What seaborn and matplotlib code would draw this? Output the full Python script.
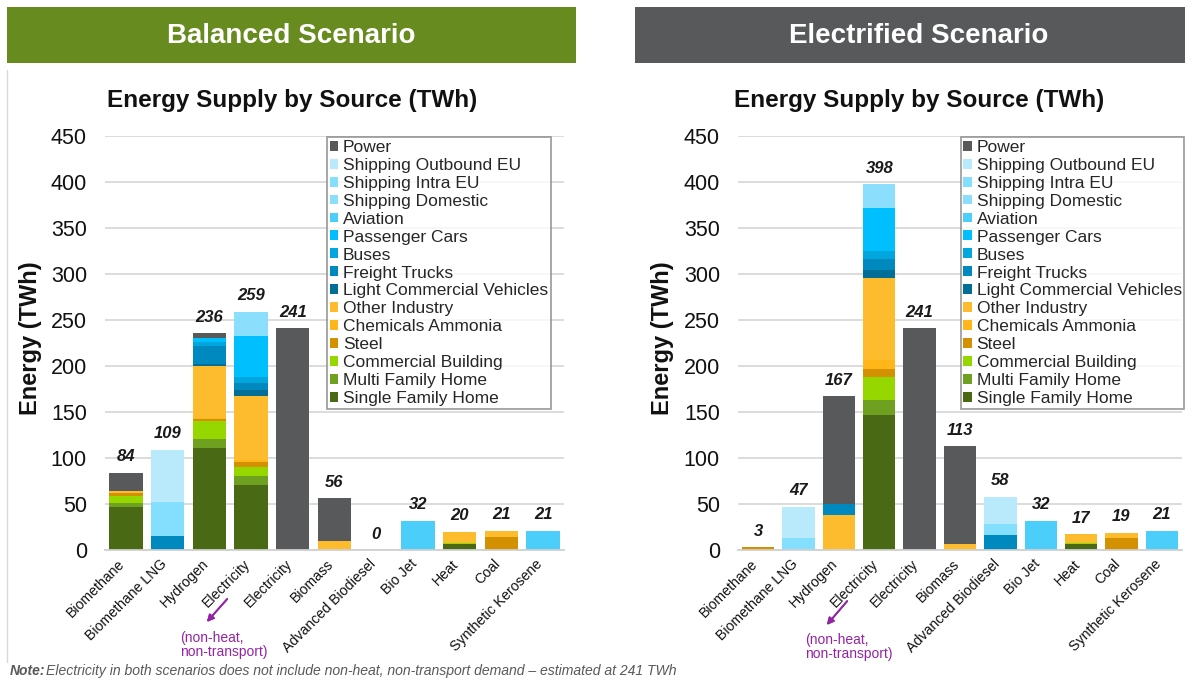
# -*- coding: utf-8 -*-

# import libraries
import pandas               as pd
import seaborn              as sns
import matplotlib.pyplot    as plt
from matplotlib.patches import Patch, Rectangle
from matplotlib.lines   import Line2D

# categories on the x axis (Electricity twice: second one is non-heat, non-transport)
sources = ['Biomethane', 'Biomethane LNG', 'Hydrogen', 'Electricity', 'Electricity',
           'Biomass', 'Advanced Biodiesel', 'Bio Jet', 'Heat', 'Coal', 'Synthetic Kerosene']

# stack order, bottom -> top
segments = ['Single Family Home', 'Multi Family Home', 'Commercial Building', 'Steel',
            'Chemicals Ammonia', 'Other Industry', 'Light Commercial Vehicles',
            'Freight Trucks', 'Buses', 'Passenger Cars', 'Aviation', 'Shipping Domestic',
            'Shipping Intra EU', 'Shipping Outbound EU', 'Power']

seg_colors = ['#4A6914', '#70A020', '#97D700', '#D39000',
              '#FFB619', '#FDBB2E', '#006E96',
              '#0089BF', '#00A6DD', '#00BFFF', '#4BCFFA', '#8CDFFC',
              '#83DFFD', '#B9EAFB', '#58595B']

# Balanced scenario (TWh)
bal_sfh      = [47, 0, 111, 71, 0, 0, 0, 0, 6, 0, 0]
bal_mfh      = [4, 0, 10, 9, 0, 0, 0, 0, 1, 0, 0]
bal_comm     = [8, 0, 19, 10, 0, 0, 0, 0, 1, 0, 0]
bal_steel    = [3, 0, 2, 6, 0, 0, 0, 0, 0, 14, 0]
bal_chem     = [0, 0, 2, 2, 0, 0, 0, 0, 0, 0, 0]
bal_other    = [2, 0, 56, 69, 0, 10, 0, 0, 12, 7, 0]
bal_lcv      = [0, 0, 2, 7, 0, 0, 0, 0, 0, 0, 0]
bal_freight  = [0, 15, 20, 7, 0, 0, 0, 0, 0, 0, 0]
bal_buses    = [0, 0, 4, 7, 0, 0, 0, 0, 0, 0, 0]
bal_cars     = [0, 0, 4, 45, 0, 0, 0, 0, 0, 0, 0]
bal_aviation = [0, 0, 0, 0, 0, 0, 0, 32, 0, 0, 21]
bal_shipdom  = [0, 0, 0, 26, 0, 0, 0, 0, 0, 0, 0]
bal_shipeu   = [0, 37, 0, 0, 0, 0, 0, 0, 0, 0, 0]
bal_shipout  = [0, 57, 0, 0, 0, 0, 0, 0, 0, 0, 0]
bal_power    = [20, 0, 6, 0, 241, 46, 0, 0, 0, 0, 0]

# Electrified scenario (TWh)
ele_sfh      = [0, 0, 0, 147, 0, 0, 0, 0, 6, 0, 0]
ele_mfh      = [0, 0, 0, 16, 0, 0, 0, 0, 1, 0, 0]
ele_comm     = [0, 0, 0, 25, 0, 0, 0, 0, 1, 0, 0]
ele_steel    = [3, 0, 0, 9, 0, 0, 0, 0, 0, 13, 0]
ele_chem     = [0, 0, 0, 10, 0, 0, 0, 0, 0, 0, 0]
ele_other    = [0, 0, 38, 89, 0, 7, 0, 0, 9, 6, 0]
ele_lcv      = [0, 0, 0, 8, 0, 0, 0, 0, 0, 0, 0]
ele_freight  = [0, 0, 12, 12, 0, 0, 16, 0, 0, 0, 0]
ele_buses    = [0, 0, 0, 9, 0, 0, 0, 0, 0, 0, 0]
ele_cars     = [0, 0, 0, 47, 0, 0, 0, 0, 0, 0, 0]
ele_aviation = [0, 0, 0, 0, 0, 0, 0, 32, 0, 0, 21]
ele_shipdom  = [0, 0, 0, 26, 0, 0, 0, 0, 0, 0, 0]
ele_shipeu   = [0, 13, 0, 0, 0, 0, 12, 0, 0, 0, 0]
ele_shipout  = [0, 34, 0, 0, 0, 0, 30, 0, 0, 0, 0]
ele_power    = [0, 0, 117, 0, 241, 106, 0, 0, 0, 0, 0]

balanced = [bal_sfh, bal_mfh, bal_comm, bal_steel, bal_chem, bal_other, bal_lcv,
            bal_freight, bal_buses, bal_cars, bal_aviation, bal_shipdom, bal_shipeu,
            bal_shipout, bal_power]
electrified = [ele_sfh, ele_mfh, ele_comm, ele_steel, ele_chem, ele_other, ele_lcv,
               ele_freight, ele_buses, ele_cars, ele_aviation, ele_shipdom, ele_shipeu,
               ele_shipout, ele_power]


def to_long(series):
    rows = []
    for seg, vals in zip(segments, series):
        for i, v in enumerate(vals):
            rows.append({'slot': i, 'segment': seg, 'value': v})
    df = pd.DataFrame(rows)
    df['segment'] = pd.Categorical(df['segment'], categories=segments, ordered=True)
    df = df.sort_values(['slot', 'segment'])
    df['cum'] = df.groupby('slot')['value'].cumsum()
    return df


sns.set_theme(style='white')
plt.rcParams['font.family'] = ['Liberation Sans', 'DejaVu Sans']

W, H = 1192, 680
fig = plt.figure(figsize=(W / 100, H / 100), dpi=100)


def px(x, y):
    return x / W, 1 - y / H


def draw_panel(rect, series, legend_x):
    ax = fig.add_axes(rect)
    df = to_long(series)
    # stacked bars: draw cumulative totals from the top segment down
    for seg, col in zip(reversed(segments), reversed(seg_colors)):
        sub = df[df['segment'] == seg]
        sns.barplot(data=sub, x='slot', y='cum', order=list(range(len(sources))),
                    color=col, saturation=1, width=0.8, errorbar=None,
                    linewidth=0, ax=ax)
    totals = df.groupby('slot')['value'].sum()
    for i, t in totals.items():
        ax.text(i, t + 9, f'{t:.0f}', ha='center', va='bottom', fontsize=12,
                fontweight='bold', fontstyle='italic', color='#1a1a1a')
    ax.set_ylim(0, 450)
    ax.set_xlim(-0.5, len(sources) - 0.5)
    ax.set_yticks(range(0, 451, 50))
    ax.yaxis.grid(True, color='#D9D9D9', lw=1.3)
    ax.set_axisbelow(True)
    for s in ['top', 'right', 'left']:
        ax.spines[s].set_visible(False)
    ax.spines['bottom'].set_color('#D0D0D0')
    ax.spines['bottom'].set_linewidth(1.3)
    ax.tick_params(axis='both', length=0)
    ax.tick_params(axis='y', pad=13, labelsize=15.5, labelcolor='#111111')
    # rotated category labels, drawn as annotations so they can be nudged like Excel's
    ax.set_xticks(range(len(sources)))
    ax.set_xticklabels([])
    for i, lab in enumerate(sources):
        ax.annotate(lab, xy=(i, 0), xycoords=('data', 'axes fraction'),
                    xytext=(-8, -7), textcoords='offset pixels', rotation=45,
                    ha='right', va='top', rotation_mode='anchor', fontsize=10.2,
                    color='#111111')
    ax.set_xlabel('')
    ax.set_ylabel('')
    handles = [Patch(facecolor=c, edgecolor='none', label=s)
               for s, c in zip(reversed(segments), reversed(seg_colors))]
    leg = ax.legend(handles=handles, loc='upper left', bbox_to_anchor=(legend_x, 0.997),
                    borderaxespad=0, fontsize=12.5, handlelength=0.5, handleheight=0.5,
                    handletextpad=0.25, labelspacing=0.17, borderpad=0.15,
                    frameon=True, fancybox=False)
    leg.get_frame().set_edgecolor('#7F7F7F')
    leg.get_frame().set_linewidth(1.2)
    return ax


# axes positions (pixels)
ax_l = draw_panel([105 / W, 1 - 550 / H, 459 / W, 414 / H], balanced, 0.484)
ax_r = draw_panel([738 / W, 1 - 550 / H, 444 / W, 414 / H], electrified, 0.502)

# scenario banners
fig.patches.append(Rectangle(px(7, 63), 569 / W, 56 / H, transform=fig.transFigure,
                             facecolor='#678B1E', edgecolor='none'))
fig.patches.append(Rectangle(px(635, 63), 550 / W, 56 / H, transform=fig.transFigure,
                             facecolor='#58595B', edgecolor='none'))
fig.text(*px(291, 36), 'Balanced Scenario', ha='center', va='center', color='white',
         fontsize=20, fontweight='bold')
fig.text(*px(919, 36), 'Electrified Scenario', ha='center', va='center', color='white',
         fontsize=20, fontweight='bold')

# thin panel border on the left
fig.add_artist(Line2D([7 / W, 7 / W], [1 - 70 / H, 1 - 662 / H], transform=fig.transFigure,
                      color='#D9D9D9', lw=1))

# chart titles and y labels
for cx in [292, 919]:
    fig.text(*px(cx, 101), 'Energy Supply by Source (TWh)', ha='center', va='center',
             fontsize=17.5, fontweight='bold', color='#111111')
for lx in [31, 663]:
    fig.text(*px(lx, 338), 'Energy (TWh)', ha='center', va='center', rotation=90,
             fontsize=17, fontweight='bold', color='#111111')

# non-heat, non-transport callouts
purple = '#9424A6'
for (tx, ty), (ax0, ay0), (ax1, ay1) in [((180, 645), (229, 597), (205, 624)),
                                         ((805, 647), (849, 599), (825, 627))]:
    fig.text(*px(tx, ty), '(non-heat,\nnon-transport)', ha='left', va='center',
             fontsize=10, color=purple, linespacing=1.0)
    fig.add_artist(plt.annotate('', xy=px(ax1, ay1), xytext=px(ax0, ay0),
                                xycoords='figure fraction', textcoords='figure fraction',
                                arrowprops=dict(arrowstyle='-|>', color=purple, lw=1.3,
                                                mutation_scale=10)))

# footnote
fig.text(*px(10, 671), 'Note:', ha='left', va='center', fontsize=10, fontweight='bold',
         fontstyle='italic', color='#595959')
fig.text(*px(46, 671), 'Electricity in both scenarios does not include non-heat, '
         'non-transport demand \u2013 estimated at 241 TWh', ha='left', va='center',
         fontsize=10.1, fontstyle='italic', color='#595959')

fig.savefig('out.png', dpi=100)
